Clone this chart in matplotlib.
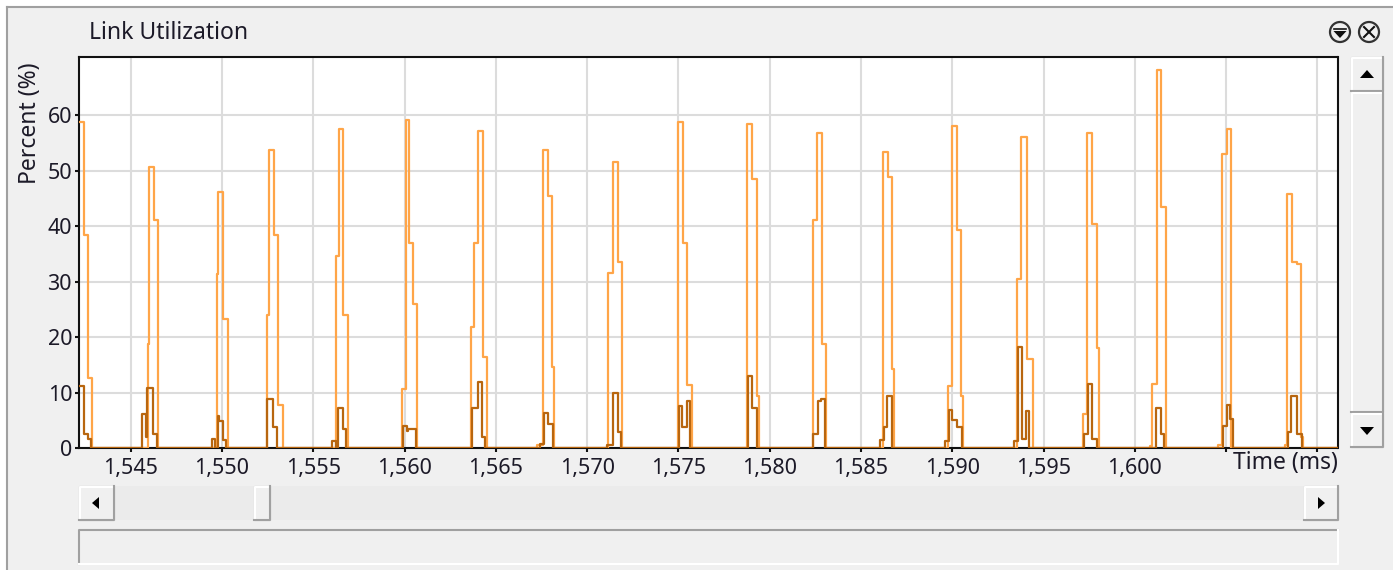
import matplotlib

matplotlib.use('agg')
import matplotlib.pyplot as plt
from matplotlib.patches import Rectangle, Circle, Polygon

plt.rcParams['font.family'] = 'Noto Sans'

# link utilization samples (ms, percent), drawn as post-steps
light_t = [1541.80, 1542.46, 1542.68, 1542.90,
           1545.93, 1546.00, 1546.26, 1546.48,
           1549.71, 1549.80, 1550.07, 1550.31,
           1552.48, 1552.59, 1552.85, 1553.09, 1553.33,
           1556.25, 1556.39, 1556.65, 1556.89,
           1559.86, 1560.06, 1560.25, 1560.48, 1560.70,
           1563.64, 1563.81, 1564.04, 1564.28, 1564.50,
           1567.24, 1567.60, 1567.84, 1568.10, 1568.21,
           1571.16, 1571.40, 1571.68, 1571.90,
           1574.96, 1575.26, 1575.49, 1575.73,
           1578.78, 1579.05, 1579.29, 1579.42,
           1582.39, 1582.58, 1582.85, 1583.09,
           1586.20, 1586.47, 1586.69, 1586.81,
           1589.76, 1590.01, 1590.25, 1590.48, 1590.61,
           1593.54, 1593.77, 1594.08, 1594.41,
           1597.15, 1597.37, 1597.64, 1597.92, 1598.04,
           1600.84, 1600.96, 1601.20, 1601.44, 1601.70,
           1604.55, 1604.78, 1605.04, 1605.28,
           1608.20, 1608.33, 1608.60, 1608.87, 1609.11, 1609.20,
           1611.50]
light_v = [58.7, 38.5, 12.7, 0,
           18.7, 50.7, 41.2, 0,
           31.4, 46.1, 23.3, 0,
           24.0, 53.8, 38.5, 7.8, 0,
           34.7, 57.5, 24.0, 0,
           10.6, 59.1, 36.9, 26.0, 0,
           21.8, 36.9, 57.2, 16.5, 0,
           0.5, 53.8, 45.4, 14.6, 0,
           31.6, 51.5, 33.5, 0,
           58.7, 36.9, 11.4, 0,
           58.4, 48.5, 9.4, 0,
           41.2, 56.8, 18.7, 0,
           53.4, 48.8, 14.2, 0,
           11.1, 58.0, 39.4, 9.4, 0,
           30.4, 56.0, 16.1, 0,
           6.1, 56.8, 40.4, 18.0, 0,
           0.4, 11.5, 68.2, 43.4, 0,
           0.5, 53.1, 57.6, 0,
           0.5, 45.8, 33.5, 33.2, 2.0, 0,
           0]

dark_t = [1541.80, 1542.43, 1542.64, 1542.83,
          1545.64, 1545.84, 1545.91, 1546.24, 1546.42,
          1549.44, 1549.62, 1549.77, 1549.85, 1550.07, 1550.24,
          1552.48, 1552.81, 1553.03,
          1556.01, 1556.25, 1556.37, 1556.65, 1556.79,
          1559.90, 1560.12, 1560.21, 1560.63,
          1563.68, 1564.01, 1564.26, 1564.41,
          1567.42, 1567.66, 1567.84, 1568.12,
          1571.08, 1571.40, 1571.68, 1571.84,
          1575.05, 1575.22, 1575.46, 1575.66,
          1578.83, 1579.02, 1579.29,
          1582.39, 1582.63, 1582.82, 1583.03,
          1586.05, 1586.28, 1586.45, 1586.69,
          1589.61, 1589.83, 1590.01, 1590.25, 1590.52,
          1593.40, 1593.62, 1593.84, 1594.05, 1594.21,
          1597.22, 1597.42, 1597.64, 1597.92,
          1601.17, 1601.44, 1601.62,
          1604.85, 1605.04, 1605.22, 1605.40,
          1608.38, 1608.56, 1608.87, 1609.15,
          1611.50]
dark_v = [11.2, 2.5, 1.6, 0,
          6.1, 2.0, 10.8, 2.6, 0,
          1.6, 0, 5.8, 4.9, 1.4, 0,
          8.8, 3.8, 0,
          1.3, 0, 7.3, 3.4, 0,
          4.0, 3.1, 3.5, 0,
          7.3, 11.9, 1.9, 0,
          0.8, 6.4, 4.3, 0,
          0.5, 9.9, 2.9, 0,
          7.6, 3.7, 8.5, 0,
          13.0, 7.2, 0,
          2.5, 8.4, 8.8, 0,
          1.4, 3.8, 9.3, 0,
          1.3, 6.9, 5.1, 3.8, 0,
          1.3, 18.3, 1.7, 6.6, 0,
          2.6, 11.5, 1.6, 0,
          7.3, 2.6, 0,
          4.0, 7.8, 5.2, 0,
          2.8, 9.3, 2.5, 0,
          0]

x_ticks = [1545, 1550, 1555, 1560, 1565, 1570, 1575, 1580, 1585, 1590, 1595, 1600, 1605, 1610]
x_tick_labels = ['1,545', '1,550', '1,555', '1,560', '1,565', '1,570', '1,575',
                 '1,580', '1,585', '1,590', '1,595', '1,600', '', '']
y_ticks = [0, 10, 20, 30, 40, 50, 60]

TXT = '#1c1a28'
W, H = 1393, 570

fig = plt.figure(figsize=(W / 100, H / 100), dpi=100, facecolor='white')

# window chrome, drawn in pixel coordinates
ui = fig.add_axes([0, 0, 1, 1])
ui.set_xlim(0, W)
ui.set_ylim(H, 0)
ui.axis('off')
ui.add_patch(Rectangle((7, 7), W, H, fc='#f0f0f0', ec='none'))
ui.plot([7, 7], [H, 7], color='#a0a0a0', lw=1.5)
ui.plot([7, W], [7, 7], color='#a0a0a0', lw=1.5)


def bevel(x0, y0, x1, y1):
    ui.add_patch(Rectangle((x0, y0), x1 - x0, y1 - y0, fc='#f0f0f0', ec='#d8d8d8', lw=1))
    ui.plot([x0 + 1, x0 + 1, x1 - 1], [y1 - 1, y0 + 1, y0 + 1], color='white', lw=1.5)
    ui.plot([x0, x1, x1], [y1, y1, y0], color='#a0a0a0', lw=1.5)


# horizontal scrollbar
ui.add_patch(Rectangle((114, 486), 1190, 34, fc='#ebebeb', ec='none'))
bevel(79, 486, 114, 520)
ui.add_patch(Polygon([[92, 503], [99, 497], [99, 509]], fc='black'))
bevel(254, 486, 270, 520)
bevel(1304, 486, 1338, 520)
ui.add_patch(Polygon([[1325, 503], [1318, 497], [1318, 509]], fc='black'))

# status box under the scrollbar
ui.add_patch(Rectangle((79, 530), 1259, 34, fc='#f0f0f0', ec='none'))
ui.plot([79, 79, 1338], [564, 530, 530], color='#a0a0a0', lw=1.5)
ui.plot([79, 1338, 1338], [564, 564, 530], color='white', lw=1.5)

# vertical scrollbar
bevel(1351, 57, 1383, 91)
ui.add_patch(Polygon([[1367, 70], [1360, 78], [1374, 78]], fc='black'))
bevel(1351, 92, 1383, 412)
bevel(1351, 413, 1383, 447)
ui.add_patch(Polygon([[1367, 435], [1360, 427], [1374, 427]], fc='black'))

# title and panel icons
ui.text(89, 33, 'Link Utilization', fontsize=16.5, color=TXT, ha='left', va='center')
ui.add_patch(Circle((1340, 32), 10, fill=False, ec='#333333', lw=1.6))
ui.add_patch(Polygon([[1333.5, 31], [1346.5, 31], [1340, 38]], fc='#111111'))
ui.plot([1334, 1346], [28.5, 28.5], color='#111111', lw=1.2)
ui.add_patch(Circle((1369, 32), 10, fill=False, ec='#333333', lw=1.6))
ui.plot([1364, 1374], [27, 37], color='#111111', lw=1.5)
ui.plot([1364, 1374], [37, 27], color='#111111', lw=1.5)

ui.text(1338, 463, 'Time (ms)', fontsize=16.5, color=TXT, ha='right', va='center')
ui.text(30, 123, 'Percent (%)', fontsize=16.5, color=TXT, ha='center', va='center',
        rotation=90)

# plot area
ax = fig.add_axes([79 / W, (H - 448) / H, (1337.5 - 79) / W, (448 - 56.5) / H])
ax.set_facecolor('white')
ax.step(light_t, light_v, where='post', color='#ffa548', lw=1.6, zorder=3)
ax.step(dark_t, dark_v, where='post', color='#b8660f', lw=1.6, zorder=4)

ax.set_xlim(1542.17, 1611.1)
ax.set_ylim(0, 70.6)
ax.set_xticks(x_ticks)
ax.set_xticklabels(x_tick_labels)
ax.set_yticks(y_ticks)
ax.grid(True, color='#dcdcdc', lw=1.5)
ax.set_axisbelow(True)
for s in ax.spines.values():
    s.set_color('#111111')
    s.set_linewidth(1.5)
ax.tick_params(axis='both', direction='out', length=3, width=1.5, color='#111111',
               labelsize=15.5, labelcolor=TXT)
ax.tick_params(axis='x', pad=4.5)
ax.tick_params(axis='y', pad=2)

fig.savefig('out.png', dpi=100, facecolor=fig.get_facecolor())
